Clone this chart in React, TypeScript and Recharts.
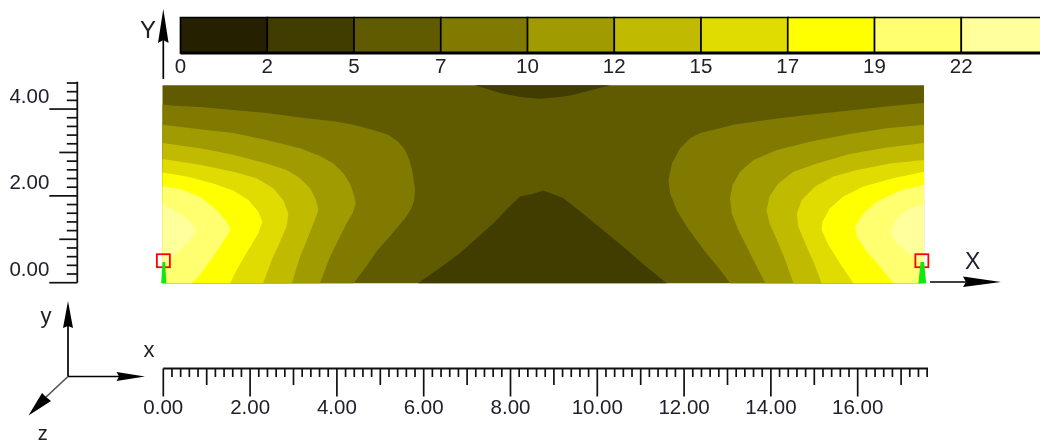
import React from "react";
import { BarChart, Bar, Cell, ComposedChart, Scatter, XAxis, YAxis, ReferenceLine } from "recharts";

type Pt = [number, number];

// colour bar
const legendLabels = ["0", "2", "5", "7", "10", "12", "15", "17", "19", "22"];
const legendColors = ["#252000", "#413c00", "#605b00", "#807b00", "#a09b00", "#c0bb00", "#e0db00", "#ffff00", "#ffff70", "#ffff9c"];
const legendHeights = [1, 1, 1, 1, 1, 1, 1, 1, 1, 1];

// contour polygons, [x, y] in model units
const plotRect: Pt[] = [[0, 0], [17.55, 0], [17.55, 4.56], [0, 4.56]];
const topDip: Pt[] = [[7.2, 4.56], [7.78, 4.38], [8.24, 4.29], [8.7, 4.25], [9.16, 4.29], [9.47, 4.34], [10.31, 4.56]];
const bottomHill: Pt[] = [[5.89, 0], [6.39, 0.35], [6.85, 0.69], [7.24, 1.04], [7.62, 1.38], [8.0, 1.77], [8.24, 2.0], [8.55, 2.06], [8.77, 2.14], [8.97, 2.06], [9.24, 1.96], [9.77, 1.54], [10.24, 1.15], [10.7, 0.77], [11.15, 0.38], [11.62, 0]];

const left7: Pt[] = [[0, 0], [0, 4.12], [0.25, 4.09], [0.86, 4.06], [1.63, 3.99], [2.4, 3.92], [3.17, 3.82], [3.94, 3.73], [4.4, 3.65], [4.86, 3.53], [5.2, 3.42], [5.43, 3.26], [5.59, 3.07], [5.69, 2.84], [5.75, 2.61], [5.79, 2.38], [5.82, 2.15], [5.8, 1.92], [5.74, 1.73], [5.59, 1.5], [5.43, 1.31], [5.2, 1.04], [4.93, 0.73], [4.67, 0.35], [4.4, 0]];
const left10: Pt[] = [[0, 0], [0, 3.65], [0.86, 3.55], [1.63, 3.46], [2.4, 3.3], [3.17, 3.11], [3.63, 2.93], [3.94, 2.76], [4.17, 2.53], [4.32, 2.3], [4.41, 2.04], [4.45, 1.84], [4.38, 1.61], [4.24, 1.38], [4.05, 1.0], [3.86, 0.61], [3.63, 0]];
const left12: Pt[] = [[0, 0], [0, 3.23], [0.86, 3.11], [1.63, 2.96], [2.4, 2.76], [2.86, 2.61], [3.17, 2.42], [3.4, 2.19], [3.54, 1.92], [3.59, 1.69], [3.51, 1.46], [3.36, 1.08], [3.17, 0.61], [2.98, 0]];
const left15: Pt[] = [[0, 0], [0, 2.86], [0.86, 2.73], [1.63, 2.57], [2.17, 2.42], [2.55, 2.19], [2.78, 1.92], [2.9, 1.61], [2.86, 1.31], [2.71, 0.96], [2.52, 0.54], [2.32, 0]];
const left17: Pt[] = [[0, 0], [0, 2.55], [0.56, 2.46], [1.17, 2.3], [1.63, 2.14], [1.98, 1.92], [2.21, 1.65], [2.3, 1.42], [2.21, 1.15], [1.98, 0.77], [1.71, 0.31], [1.56, 0]];
const left19: Pt[] = [[0, 0], [0, 2.24], [0.4, 2.17], [0.86, 2.0], [1.25, 1.69], [1.48, 1.42], [1.57, 1.23], [1.4, 0.96], [1.17, 0.61], [0.86, 0.19], [0.67, 0]];
const left22: Pt[] = [[0, 0.38], [0, 1.83], [0.33, 1.65], [0.63, 1.42], [0.79, 1.23], [0.63, 1.0], [0.33, 0.69]];

const right7: Pt[] = [[17.55, 0], [17.55, 4.15], [16.84, 4.09], [15.84, 3.98], [14.69, 3.86], [13.92, 3.76], [13.16, 3.65], [12.85, 3.57], [12.39, 3.46], [12.16, 3.34], [11.93, 3.11], [11.74, 2.76], [11.66, 2.38], [11.7, 2.07], [11.85, 1.69], [12.08, 1.31], [12.47, 0.77], [12.85, 0.31], [13.08, 0]];
const right10: Pt[] = [[17.55, 0], [17.55, 3.65], [16.69, 3.57], [15.84, 3.44], [14.92, 3.26], [14.16, 3.07], [13.62, 2.84], [13.31, 2.57], [13.14, 2.27], [13.08, 1.96], [13.12, 1.61], [13.27, 1.23], [13.5, 0.77], [13.89, 0]];
const right12: Pt[] = [[17.55, 0], [17.55, 3.23], [16.69, 3.13], [15.84, 2.98], [15.08, 2.76], [14.54, 2.57], [14.19, 2.3], [13.99, 2.0], [13.92, 1.69], [13.99, 1.38], [14.16, 1.0], [14.35, 0.54], [14.54, 0]];
const right15: Pt[] = [[17.55, 0], [17.55, 2.84], [16.77, 2.76], [16.0, 2.61], [15.46, 2.46], [15.04, 2.23], [14.73, 1.92], [14.62, 1.61], [14.65, 1.31], [14.81, 0.92], [15.0, 0.5], [15.19, 0]];
const right17: Pt[] = [[17.55, 0], [17.55, 2.57], [16.84, 2.42], [16.15, 2.23], [15.69, 2.0], [15.38, 1.73], [15.21, 1.42], [15.19, 1.23], [15.35, 0.88], [15.61, 0.46], [15.92, 0]];
const right19: Pt[] = [[17.55, 0], [17.55, 2.27], [17.0, 2.14], [16.46, 1.88], [16.15, 1.61], [15.96, 1.31], [16.0, 1.08], [16.23, 0.73], [16.54, 0.38], [16.84, 0]];
const right22: Pt[] = [[17.55, 0.46], [17.55, 1.83], [17.23, 1.73], [16.92, 1.5], [16.77, 1.19], [16.92, 0.92], [17.23, 0.65]];

// supports
const supportSquares: Pt[] = [[0.02, 0.52], [17.5, 0.52]];
const greenLeft: Pt[] = [[-0.03, 0], [0.09, 0], [0.06, 0.49], [0, 0.49]];
const greenRight: Pt[] = [[17.42, 0], [17.6, 0], [17.55, 0.49], [17.47, 0.49]];

// rulers, in tenths
const xRulerTicks = Array.from({ length: 89 }, (_, i) => i * 2);
const yRulerTicks = Array.from({ length: 24 }, (_, i) => i * 2);

const contourLayers: { data: Pt[]; color: string }[] = [
  { data: plotRect, color: "#605b00" },
  { data: topDip, color: "#413c00" },
  { data: bottomHill, color: "#413c00" },
  { data: left7, color: "#807b00" },
  { data: left10, color: "#a09b00" },
  { data: left12, color: "#c0bb00" },
  { data: left15, color: "#e0db00" },
  { data: left17, color: "#ffff00" },
  { data: left19, color: "#ffff70" },
  { data: left22, color: "#ffff9c" },
  { data: right7, color: "#807b00" },
  { data: right10, color: "#a09b00" },
  { data: right12, color: "#c0bb00" },
  { data: right15, color: "#e0db00" },
  { data: right17, color: "#ffff00" },
  { data: right19, color: "#ffff70" },
  { data: right22, color: "#ffff9c" },
];

const FONT = "'Liberation Sans', Arial, sans-serif";
const TEXT = "#20202a";
const toPoints = (p: Pt[]) => p.map(([x, y]) => ({ x, y }));
const abs = (left: number, top: number): React.CSSProperties => ({ position: "absolute", left, top });

const NoDot = () => null;
const SupportSquare = (props: any) => (
  <rect x={props.cx - 6.5} y={props.cy - 6.5} width={13} height={13} fill="none" stroke="#ff0000" strokeWidth={1.8} />
);

const LegendTick = (props: any) => (
  <text x={props.x - 43.4} y={props.y + 19.5} textAnchor="middle" fontFamily={FONT} fontSize={20.5} fill={TEXT}>
    {props.payload.value}
  </text>
);

const XRulerTick = (props: any) => {
  const k = Math.round(props.payload.value * 5);
  const major = k % 10 === 0;
  const medium = k % 5 === 0;
  const len = major ? 28 : medium ? 16.5 : 8.5;
  return (
    <g>
      <line x1={props.x} x2={props.x} y1={props.y} y2={props.y + len} stroke="#111" strokeWidth={1.7} />
      {major ? (
        <text x={props.x} y={props.y + 45.5} textAnchor="middle" fontFamily={FONT} fontSize={20.5} fill={TEXT}>
          {props.payload.value.toFixed(2)}
        </text>
      ) : null}
    </g>
  );
};

const YRulerTick = (props: any) => {
  const k = Math.round(props.payload.value * 5);
  const major = k % 10 === 0;
  const medium = k % 5 === 0;
  const len = major ? 28 : medium ? 18 : 10.5;
  return (
    <g>
      <line x1={props.x} x2={props.x - len} y1={props.y} y2={props.y} stroke="#111" strokeWidth={1.7} />
      {major ? (
        <text x={props.x - 28} y={props.y - 6.5} textAnchor="end" fontFamily={FONT} fontSize={20.5} fill={TEXT}>
          {props.payload.value.toFixed(2)}
        </text>
      ) : null}
    </g>
  );
};

const Label = ({ x, y, size = 22, children }: any) => (
  <text x={x} y={y} textAnchor="middle" fontFamily={FONT} fontSize={size} fill={TEXT}>
    {children}
  </text>
);

const Annotations = () => (
  <svg width={1040} height={445} style={{ ...abs(0, 0), pointerEvents: "none" }}>
    <line x1={163.3} y1={79} x2={163.3} y2={30} stroke="#000" strokeWidth={1.7} />
    <polygon points="163.3,9 158,43 163.3,40 168.6,43" fill="#000" />
    <line x1={930} y1={282} x2={990} y2={282} stroke="#000" strokeWidth={1.7} />
    <polygon points="1001,282 963,276.5 966,282 963,287" fill="#000" />
    <line x1={68} y1={376.5} x2={68} y2={320} stroke="#000" strokeWidth={1.7} />
    <polygon points="68,301 63,328 68,326 73,328" fill="#000" />
    <line x1={68} y1={376.5} x2={130} y2={376.5} stroke="#000" strokeWidth={1.7} />
    <polygon points="145,376.5 116.5,372 119,376.5 116.5,381" fill="#000" />
    <line x1={68} y1={376.5} x2={45} y2={398} stroke="#555" strokeWidth={1.7} />
    <polygon points="28.5,415.5 42,393 46,397 51,401" fill="#000" />
    <Label x={148} y={38} size={24}>Y</Label>
    <Label x={972.7} y={269} size={23}>X</Label>
    <Label x={46} y={323}>y</Label>
    <Label x={149} y={357}>x</Label>
    <Label x={42.7} y={440} size={20}>z</Label>
  </svg>
);

export default function App() {
  const legend = legendLabels.map((label, i) => ({ label, height: legendHeights[i] }));
  const xTicks = xRulerTicks.map((v) => v / 10);
  const yTicks = yRulerTicks.map((v) => v / 10);
  return (
    <div style={{ position: "fixed", left: 0, top: 0, width: 1040, height: 445, overflow: "hidden", background: "#fff" }}>
      <div style={{ ...abs(0, 0), width: 1040, height: 445, filter: "blur(0.45px)" }}>
        {/* contours */}
        <div style={abs(0, 0)}>
          <ComposedChart width={1040} height={445} margin={{ left: 161.2, right: 113.8, top: 85.3, bottom: 161.7 }}>
            <XAxis dataKey="x" type="number" domain={[-0.03, 17.6]} hide />
            <YAxis dataKey="y" type="number" domain={[0, 4.56]} hide />
            {contourLayers.map((l, i) => (
              <Scatter
                key={i}
                data={toPoints(l.data)}
                line={{ fill: l.color, stroke: "none" }}
                shape={NoDot}
                fill={l.color}
                isAnimationActive={false}
              />
            ))}
            <Scatter data={toPoints(supportSquares)} shape={SupportSquare} isAnimationActive={false} />
            <Scatter data={toPoints(greenLeft)} line={{ fill: "#10e810", stroke: "none" }} shape={NoDot} isAnimationActive={false} />
            <Scatter data={toPoints(greenRight)} line={{ fill: "#10e810", stroke: "none" }} shape={NoDot} isAnimationActive={false} />
          </ComposedChart>
        </div>

        {/* colour bar */}
        <div style={abs(170, 0)}>
          <BarChart
            width={888}
            height={90}
            data={legend}
            barCategoryGap={0}
            margin={{ left: 10.5, right: 10, top: 17.5, bottom: 0 }}
          >
            <XAxis dataKey="label" height={37} tickLine={false} axisLine={false} tickSize={0} tickMargin={0} interval={0} tick={<LegendTick />} />
            <YAxis type="number" domain={[0, 1]} hide />
            <Bar dataKey="height" stroke="#000" strokeWidth={1.7} isAnimationActive={false}>
              {legend.map((_, i) => (
                <Cell key={i} fill={legendColors[i]} />
              ))}
            </Bar>
            <ReferenceLine y={0} stroke="#000" strokeWidth={3} />
          </BarChart>
        </div>

        {/* x ruler */}
        <div style={abs(143, 338)}>
          <ComposedChart width={800} height={90} margin={{ left: 20.3, right: 15, top: 30.5, bottom: 0 }}>
            <XAxis
              dataKey="x"
              type="number"
              domain={[0, 17.62]}
              ticks={xTicks}
              interval={0}
              height={59.5}
              tickLine={false}
              tickSize={0}
              tickMargin={0}
              axisLine={{ stroke: "#111", strokeWidth: 1.8 }}
              tick={<XRulerTick />}
            />
            <YAxis dataKey="y" type="number" domain={[0, 1]} hide />
            <Scatter data={xTicks.map((x) => ({ x, y: 0 }))} shape={NoDot} isAnimationActive={false} />
          </ComposedChart>
        </div>

        {/* y ruler */}
        <div style={abs(0, 0)}>
          <ComposedChart width={90} height={300} margin={{ left: 0, right: 0, top: 81.7, bottom: 17.3 }}>
            <YAxis
              dataKey="y"
              type="number"
              domain={[0, 4.63]}
              ticks={yTicks}
              interval={0}
              width={77.3}
              tickLine={false}
              tickSize={0}
              tickMargin={0}
              axisLine={{ stroke: "#111", strokeWidth: 1.8 }}
              tick={<YRulerTick />}
            />
            <XAxis dataKey="x" type="number" domain={[0, 1]} hide />
            <Scatter data={yTicks.map((y) => ({ x: 0, y }))} shape={NoDot} isAnimationActive={false} />
          </ComposedChart>
        </div>

        <Annotations />
      </div>
    </div>
  );
}
